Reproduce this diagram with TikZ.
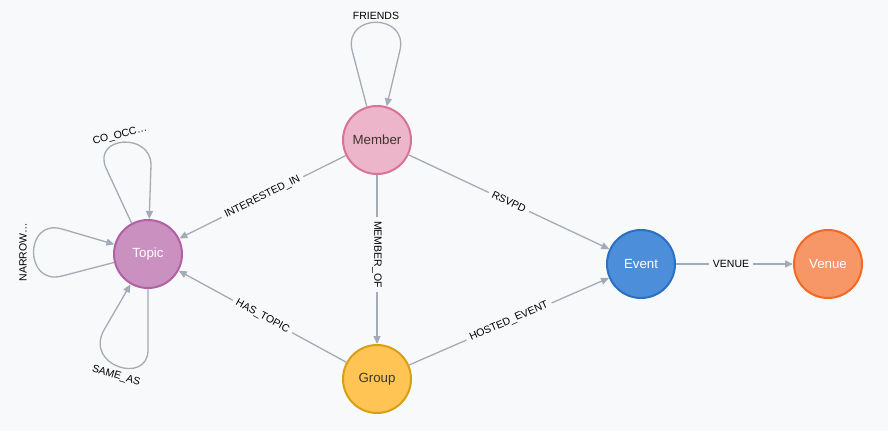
\documentclass[tikz,border=0pt]{standalone}
\usepackage{fontspec}
\setmainfont{Liberation Sans}
\usetikzlibrary{arrows.meta}
\definecolor{bg}{HTML}{F8F9FB}
\definecolor{edgec}{HTML}{A5ABB6}
\definecolor{darktxt}{HTML}{3A3632}
\definecolor{memfill}{HTML}{ECB5C9}\definecolor{memdraw}{HTML}{DA7298}
\definecolor{topfill}{HTML}{C990C0}\definecolor{topdraw}{HTML}{B261A5}
\definecolor{grpfill}{HTML}{FFC454}\definecolor{grpdraw}{HTML}{D7A013}
\definecolor{evfill}{HTML}{4C8EDA}\definecolor{evdraw}{HTML}{2870C2}
\definecolor{vefill}{HTML}{F79767}\definecolor{vedraw}{HTML}{F36924}
\tikzset{
  gnode/.style={circle,minimum size=68pt,inner sep=0pt,line width=2pt,font=\fontsize{13.3}{15}\selectfont},
  edge/.style={draw=edgec,line width=1.3pt,-{Triangle[length=8pt,width=7pt]}},
  lbl/.style={fill=bg,inner xsep=4pt,inner ysep=1.5pt,text=black,font=\fontsize{10.5}{12}\selectfont},
  plainlbl/.style={inner sep=0pt,text=black,font=\fontsize{10.5}{12}\selectfont}
}
\begin{document}
\begin{tikzpicture}[x=1pt,y=1pt]
\fill[bg] (0,0) rectangle (888,-431);
\useasboundingbox (0,0) rectangle (888,-431);

\node[gnode,fill=memfill,draw=memdraw,text=darktxt] (m) at (377,-140) {Member};
\node[gnode,fill=topfill,draw=topdraw,text=white] (t) at (148,-254) {Topic};
\node[gnode,fill=grpfill,draw=grpdraw,text=darktxt] (g) at (377,-379) {Group};
\node[gnode,fill=evfill,draw=evdraw,text=white] (e) at (641,-264) {Event};
\node[gnode,fill=vefill,draw=vedraw,text=white] (v) at (828,-264) {Venue};

% straight edges
\draw[edge] (m) -- node[lbl,sloped] {INTERESTED\_IN} (t);
\draw[edge] (m) -- node[lbl,sloped] {RSVPD} (e);
\draw[edge] (m) -- node[lbl,rotate=-90,pos=0.47] {MEMBER\_OF} (g);
\draw[edge] (g) -- node[lbl,sloped] {HAS\_TOPIC} (t);
\draw[edge] (g) -- node[lbl,sloped] {HOSTED\_EVENT} (e);
\draw[edge] (e) -- node[lbl,pos=0.47] {VENUE} (v);

% self loops
\draw[edge] (m.107) -- (352,-50) .. controls (344,-13) and (408,-13) .. (400,-50) -- (m.74);
\node[plainlbl] (lfr) at (376,-16) {FRIENDS};

\draw[edge] (t.118) -- (106,-168) .. controls (92,-136) and (151,-132) .. (151,-165) -- (t.88);
\node[plainlbl,rotate=15] (lco) at (120,-135) {CO\_OCC…};

\draw[edge] (t.194) -- (62,-276) .. controls (24,-286) and (24,-218) .. (62,-229) -- (t.164);
\node[plainlbl,rotate=90] (lna) at (23,-252) {NARROW…};

\draw[edge] (t.270) -- (148,-350) .. controls (148,-385) and (84,-366) .. (104,-330) -- (t.240);
\node[plainlbl,rotate=-17] (lsa) at (116,-376) {SAME\_AS};
\end{tikzpicture}
\end{document}
